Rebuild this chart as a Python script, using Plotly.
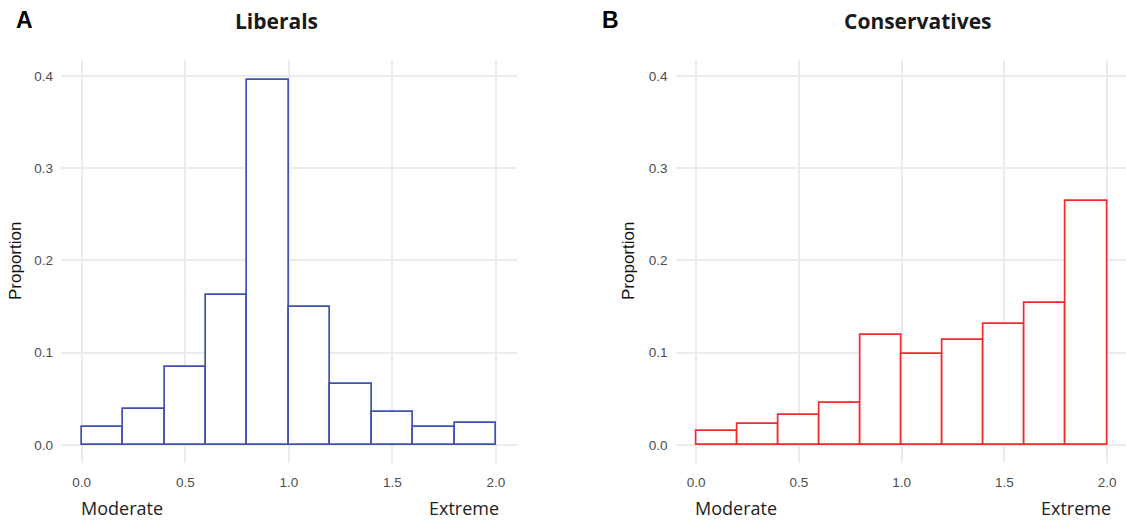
import plotly.graph_objects as go

# ---- data ----
bin_starts = [0.0, 0.2, 0.4, 0.6, 0.8, 1.0, 1.2, 1.4, 1.6, 1.8]
bin_width = 0.2
liberals = [0.020, 0.0387, 0.085, 0.163, 0.396, 0.1495, 0.0665, 0.0355, 0.020, 0.0238]
conservatives = [0.0157, 0.0228, 0.0325, 0.045, 0.1187, 0.0987, 0.1142, 0.1312, 0.1535, 0.2645]
x_ticks = [0.0, 0.5, 1.0, 1.5, 2.0]
x_tick_labels = ["0.0", "0.5", "1.0", "1.5", "2.0"]
y_ticks = [0.0, 0.1, 0.2, 0.3, 0.4]
y_tick_labels = ["0.0", "0.1", "0.2", "0.3", "0.4"]

W, H = 1126, 522
BLUE = "#3F53AD"
RED = "#F22B2B"
GRID = "#EBEBEB"
TICKC = "#4D4D4D"

fig = go.Figure()
fig.add_trace(go.Bar(x=bin_starts, y=liberals, width=bin_width, offset=0,
                     marker=dict(color="white", line=dict(color=BLUE, width=1.7)),
                     xaxis="x", yaxis="y", showlegend=False, hoverinfo="skip"))
fig.add_trace(go.Bar(x=bin_starts, y=conservatives, width=bin_width, offset=0,
                     marker=dict(color="white", line=dict(color=RED, width=1.7)),
                     xaxis="x2", yaxis="y2", showlegend=False, hoverinfo="skip"))

def px_x(p):
    return p / W

def px_y(p):
    return (H - p) / H

ydom = [px_y(463), px_y(60)]
yrange = [-0.0195, 0.4173]

xcommon = dict(tickvals=x_ticks, ticktext=x_tick_labels,
               showgrid=True, gridcolor=GRID, gridwidth=1.5, zeroline=False,
               showline=False, ticks="", ticklabelstandoff=9,
               tickfont=dict(family="Liberation Sans, Arial", size=13.5, color=TICKC))
ycommon = dict(range=yrange, domain=ydom, tickvals=y_ticks, ticktext=y_tick_labels,
               showgrid=True, gridcolor=GRID, gridwidth=1.5, zeroline=False,
               showline=False, ticks="", ticklabelstandoff=7,
               tickfont=dict(family="Liberation Sans, Arial", size=13.5, color=TICKC))

fig.update_layout(
    width=W, height=H,
    margin=dict(l=0, r=0, t=0, b=0),
    paper_bgcolor="white", plot_bgcolor="white",
    bargap=0,
    xaxis=dict(domain=[px_x(61), px_x(516.7)], range=[-0.1, 2.1], anchor="y", **xcommon),
    yaxis=dict(anchor="x", **ycommon),
    xaxis2=dict(domain=[px_x(675.5), 1.0], range=[-0.1, 2.092], anchor="y2", **xcommon),
    yaxis2=dict(anchor="x2", **ycommon),
)

ann = []
lab_font = dict(family="Open Sans, Noto Sans", size=18, color="#222222")
# x-axis end labels
ann.append(dict(text="Moderate", xref="x", yref="paper", x=-0.015, y=px_y(508),
                xanchor="left", yanchor="middle", showarrow=False, font=lab_font))
ann.append(dict(text="Extreme", xref="x", yref="paper", x=2.025, y=px_y(508),
                xanchor="right", yanchor="middle", showarrow=False, font=lab_font))
ann.append(dict(text="Moderate", xref="x2", yref="paper", x=-0.015, y=px_y(508),
                xanchor="left", yanchor="middle", showarrow=False, font=lab_font))
ann.append(dict(text="Extreme", xref="x2", yref="paper", x=2.03, y=px_y(508),
                xanchor="right", yanchor="middle", showarrow=False, font=lab_font))
# y-axis titles
ytitle_font = dict(family="Liberation Sans, Arial", size=17, color="#111111")
ann.append(dict(text="Proportion", xref="paper", yref="paper", x=px_x(15), y=px_y(261),
                textangle=-90, xanchor="center", yanchor="middle", showarrow=False, font=ytitle_font))
ann.append(dict(text="Proportion", xref="paper", yref="paper", x=px_x(628), y=px_y(261),
                textangle=-90, xanchor="center", yanchor="middle", showarrow=False, font=ytitle_font))
# titles
title_font = dict(family="Open Sans, Noto Sans", size=21, color="#1a1a1a")
ann.append(dict(text="<b>Liberals</b>", xref="paper", yref="paper", x=px_x(276), y=px_y(21),
                xanchor="center", yanchor="middle", showarrow=False, font=title_font))
ann.append(dict(text="<b>Conservatives</b>", xref="paper", yref="paper", x=px_x(918), y=px_y(21),
                xanchor="center", yanchor="middle", showarrow=False, font=title_font))
# panel letters
letter_font = dict(family="Liberation Sans, Arial", size=23, color="black")
ann.append(dict(text="<b>A</b>", xref="paper", yref="paper", x=px_x(24), y=px_y(20),
                xanchor="center", yanchor="middle", showarrow=False, font=letter_font))
ann.append(dict(text="<b>B</b>", xref="paper", yref="paper", x=px_x(610), y=px_y(20),
                xanchor="center", yanchor="middle", showarrow=False, font=letter_font))
fig.update_layout(annotations=ann)

fig.write_html("out.html", config={"displayModeBar": False},
               post_script="document.body.style.margin='0';document.body.style.overflow='hidden';")
